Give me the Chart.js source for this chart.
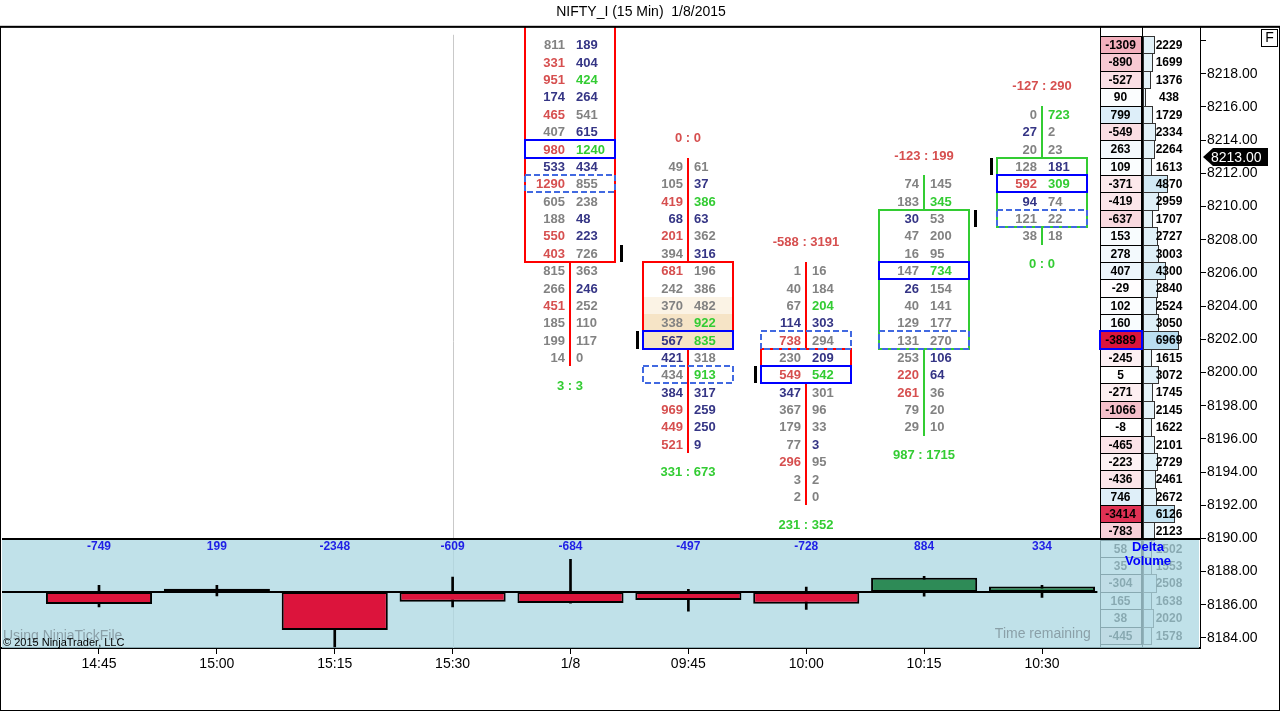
<!DOCTYPE html>
<html>
<head>
<meta charset="utf-8">
<script src="https://cdn.jsdelivr.net/npm/chart.js@4.4.1/dist/chart.umd.min.js"></script>
<style>
  html, body { margin: 0; padding: 0; background: #fff; overflow: hidden; }
  canvas { display: block; }
</style>
</head>
<body>
<canvas id="chart" width="1280" height="711"></canvas>
<script>
const FONT = '"Liberation Sans", Arial, sans-serif';

// 15 min bars and their delta candles (lower panel)
const categories = ['14:45', '15:00', '15:15', '15:30', '1/8', '09:45', '10:00', '10:15', '10:30'];
const deltaClose = [-749, 199, -2348, -609, -684, -497, -728, 884, 334];
const deltaHigh  = [413, 413, 0, 926, 2020, 170, 310, 970, 413];
const deltaLow   = [-926, -247, -3390, -926, -684, -1190, -1070, -265, -330];

// price axis
const priceTicks = [8184, 8186, 8188, 8190, 8192, 8194, 8196, 8198, 8200, 8202,
                    8204, 8206, 8208, 8210, 8212, 8214, 8216, 8218, 8220];
const lastPrice = 8213;

// footprint bars, rows are ladder rows (0 = top row of the profile)
const fpCols  = [4, 5, 6, 7, 8];
const fpFirst = [0, 7, 13, 8, 4];
const fpBid = [
  [811, 331, 951, 174, 465, 407, 980, 533, 1290, 605, 188, 550, 403, 815, 266, 451, 185, 199, 14],
  [49, 105, 419, 68, 201, 394, 681, 242, 370, 338, 567, 421, 434, 384, 969, 449, 521],
  [1, 40, 67, 114, 738, 230, 549, 347, 367, 179, 77, 296, 3, 2],
  [74, 183, 30, 47, 16, 147, 26, 40, 129, 131, 253, 220, 261, 79, 29],
  [0, 27, 20, 128, 592, 94, 121, 38]
];
const fpAsk = [
  [189, 404, 424, 264, 541, 615, 1240, 434, 855, 238, 48, 223, 726, 363, 246, 252, 110, 117, 0],
  [61, 37, 386, 63, 362, 316, 196, 386, 482, 922, 835, 318, 913, 317, 259, 250, 9],
  [16, 184, 204, 303, 294, 209, 542, 301, 96, 33, 3, 95, 2, 0],
  [145, 345, 53, 200, 95, 734, 154, 141, 177, 270, 106, 64, 36, 20, 10],
  [723, 2, 23, 181, 309, 74, 22, 18]
];
// k = neutral, r = bid imbalance, n = stacked, g = ask imbalance
const fpTone = [
  ['kn','rn','rg','nn','rk','kn','rg','nn','rk','kk','kn','rn','rk','kk','kn','rk','kk','kk','kk'],
  ['kk','kn','rg','nn','rk','kn','rk','kk','kk','kg','ng','nk','kg','nn','rn','rn','rn'],
  ['kk','kk','kg','nn','rk','kn','rg','nk','kk','kk','kn','rk','kk','kk'],
  ['kk','kg','nk','kk','kk','kg','nk','kk','kk','kk','kn','rn','rk','kk','kk'],
  ['kg','nk','kk','kn','rg','nk','kk','kk']
];
const fpHead  = [null, [0, 0], [-588, 3191], [-123, 199], [-127, 290]];
const fpFoot  = [[3, 3], [331, 673], [231, 352], [987, 1715], [0, 0]];
const fpBody  = [[-4, 12.5], [12.5, 17.5], [17.5, 19.5], [9.5, 17.5], [6.5, 10.5]];
const fpUp    = [false, false, false, true, true];
const fpPoc   = [6, 17, 19, 13, 8];
const fpDash  = [8, 19, 17, 17, 10];
const fpClose = [12, 17, 19, 10, 7];
const fpCloseSide = [1, -1, -1, 1, -1];
const fpShade = [[], [[15, 0.45], [16, 1], [17, 1]], [], [], []];

// volume profile on the right
const profDelta = [-1309, -890, -527, 90, 799, -549, 263, 109, -371, -419, -637, 153, 278, 407, -29, 102, 160,
                   -3889, -245, 5, -271, -1066, -8, -465, -223, -436, 746, -3414, -783, 58, 35, -304, 165, 38, -445];
const profVol = [2229, 1699, 1376, 438, 1729, 2334, 2264, 1613, 4870, 2959, 1707, 2727, 3003, 4300, 2840, 2524, 3050,
                 6969, 1615, 3072, 1745, 2145, 1622, 2101, 2729, 2461, 2672, 6126, 2123, 1502, 1553, 2508, 1638, 2020, 1578];

const TONE = { k: '#828282', r: '#d64f4f', n: '#353585', g: '#33cc33' };

function mix(a, b, t) {
  t = Math.max(0, Math.min(1, t));
  return 'rgb(' + a.map((v, i) => Math.round(v + (b[i] - v) * t)).join(',') + ')';
}

function drawFootprint(ctx, xs, yr) {
  fpCols.forEach((ci, j) => {
    const cx = Math.round(xs.getPixelForValue(ci));
    const py = r => Math.round(yr.getPixelForValue(r));
    const first = fpFirst[j], last = first + fpBid[j].length - 1;
    const col = fpUp[j] ? '#33cc33' : '#ff0000';
    const box = r => ctx.strokeRect(cx - 45, py(r - 0.5), 90, py(r + 0.5) - py(r - 0.5));

    ctx.fillStyle = col;
    ctx.fillRect(cx - 1, py(first - 0.5), 2, py(last + 0.5) - py(first - 0.5));

    const bt = py(fpBody[j][0]), bb = py(fpBody[j][1]);
    ctx.fillStyle = '#fff';
    ctx.fillRect(cx - 45, bt, 90, bb - bt);
    fpShade[j].forEach(([r, t]) => {
      ctx.fillStyle = mix([255, 255, 255], [246, 228, 198], t);
      ctx.fillRect(cx - 44, py(r - 0.5), 88, py(r + 0.5) - py(r - 0.5));
    });
    ctx.lineWidth = 2;
    ctx.setLineDash([]);
    ctx.strokeStyle = col;
    ctx.strokeRect(cx - 45, bt, 90, bb - bt);

    ctx.strokeStyle = '#4169e1';
    ctx.setLineDash([6, 3]);
    box(fpDash[j]);
    ctx.setLineDash([]);
    ctx.strokeStyle = '#0000ff';
    box(fpPoc[j]);

    ctx.fillStyle = '#000';
    const cr = fpClose[j];
    ctx.fillRect(cx + fpCloseSide[j] * 51 - 1, py(cr - 0.5), 3, py(cr + 0.5) - py(cr - 0.5));

    ctx.font = 'bold 13px ' + FONT;
    ctx.textBaseline = 'middle';
    fpBid[j].forEach((b, k) => {
      const y = yr.getPixelForValue(first + k) + 1;
      ctx.textAlign = 'right';
      ctx.fillStyle = TONE[fpTone[j][k][0]];
      ctx.fillText(String(b), cx - 5, y);
      ctx.textAlign = 'left';
      ctx.fillStyle = TONE[fpTone[j][k][1]];
      ctx.fillText(String(fpAsk[j][k]), cx + 6, y);
    });
    ctx.textAlign = 'center';
    if (fpHead[j]) {
      ctx.fillStyle = '#d64f4f';
      ctx.fillText(fpHead[j][0] + ' : ' + fpHead[j][1], cx, yr.getPixelForValue(first - 1.6));
    }
    ctx.fillStyle = '#33cc33';
    ctx.fillText(fpFoot[j][0] + ' : ' + fpFoot[j][1], cx, yr.getPixelForValue(last + 1.65));
  });
}

function drawProfile(ctx, a, yr) {
  const x0 = a.right - 100, x1 = a.right - 59, vb = a.right - 57;
  const maxV = Math.max(...profVol);
  const maxN = Math.max(...profDelta.map(d => -d));
  ctx.font = 'bold 12px ' + FONT;
  ctx.textAlign = 'center';
  ctx.textBaseline = 'middle';
  ctx.lineWidth = 1;
  profDelta.forEach((d, r) => {
    const t = Math.round(yr.getPixelForValue(r - 0.5));
    const b = Math.round(yr.getPixelForValue(r + 0.5));
    ctx.fillStyle = d < 0 ? mix([255, 255, 255], [220, 20, 60], -d / maxN)
                          : mix([255, 255, 255], [212, 234, 247], d / 1000);
    ctx.fillRect(x0, t, x1 - x0, b - t);
    ctx.strokeStyle = '#000';
    ctx.strokeRect(x0 + 0.5, t + 0.5, x1 - x0, b - t);
    const w = Math.max(2, Math.round(profVol[r] / maxV * 35));
    ctx.fillStyle = mix([232, 244, 250], [186, 222, 240], (profVol[r] / maxV) ** 2);
    ctx.fillRect(vb, t, w, b - t);
    ctx.strokeStyle = '#333';
    ctx.strokeRect(vb + 0.5, t + 0.5, w, b - t);
    const ym = (t + b) / 2 + 1;
    ctx.fillStyle = '#000';
    ctx.fillText(String(d), (x0 + x1) / 2, ym);
    ctx.fillText(String(profVol[r]), a.right - 31, ym);
  });
  ctx.strokeStyle = '#000';
  ctx.beginPath();
  ctx.moveTo(x1 + 1.5, a.top); ctx.lineTo(x1 + 1.5, a.bottom);
  ctx.moveTo(x0 + 0.5, a.top); ctx.lineTo(x0 + 0.5, a.bottom);
  ctx.stroke();
  const poc = profVol.indexOf(maxV);
  ctx.strokeStyle = '#0000ff';
  ctx.lineWidth = 2;
  const t = Math.round(yr.getPixelForValue(poc - 0.5)), b = Math.round(yr.getPixelForValue(poc + 0.5));
  ctx.strokeRect(x0, t, x1 - x0 + 1, b - t);
}

const layers = {
  id: 'layers',
  beforeDraw(chart) {
    const ctx = chart.ctx;
    ctx.save();
    ctx.fillStyle = '#fff';
    ctx.fillRect(0, 0, chart.width, chart.height);
    ctx.restore();
  },
  beforeDatasetsDraw(chart) {
    const { ctx, chartArea: a, scales } = chart;
    const xs = scales.x, yr = scales.yr, yd = scales.yd;
    ctx.save();
    ctx.beginPath();
    ctx.rect(a.left, a.top, a.right - a.left, a.bottom - a.top);
    ctx.clip();

    // session break
    const sx = Math.round(xs.getPixelForValue(3)) + 0.5;
    ctx.strokeStyle = '#c9c9c9';
    ctx.lineWidth = 1;
    ctx.beginPath(); ctx.moveTo(sx, a.top + 8); ctx.lineTo(sx, a.bottom); ctx.stroke();

    drawFootprint(ctx, xs, yr);
    drawProfile(ctx, a, yr);

    // delta panel
    const z = Math.round(yd.getPixelForValue(0));
    const pTop = z - 53;
    ctx.fillStyle = 'rgba(174,216,227,0.78)';
    ctx.fillRect(a.left, pTop, a.right - a.left - 1, a.bottom - pTop);
    ctx.fillStyle = '#000';
    ctx.fillRect(a.left, pTop - 1, a.right - a.left, 2);
    ctx.fillRect(a.left, z - 1, xs.getPixelForValue(8.47) - a.left, 2);

    ctx.font = '14px ' + FONT;
    ctx.textBaseline = 'middle';
    ctx.textAlign = 'left';
    ctx.fillStyle = 'rgba(120,138,146,0.75)';
    ctx.fillText('Using NinjaTickFile', a.left + 1, a.bottom - 12);
    ctx.fillText('Time remaining', xs.getPixelForValue(7.6), a.bottom - 14);
    ctx.restore();
  },
  afterDatasetsDraw(chart) {
    const { ctx, chartArea: a, scales } = chart;
    const xs = scales.x, yd = scales.yd, yp = scales.y;
    const z = Math.round(yd.getPixelForValue(0));
    ctx.save();
    ctx.textBaseline = 'middle';
    ctx.textAlign = 'center';
    ctx.font = 'bold 12px ' + FONT;
    ctx.fillStyle = '#1f1fe6';
    deltaClose.forEach((d, i) => ctx.fillText(String(d), xs.getPixelForValue(i), z - 45));
    ctx.fillStyle = '#0000ff';
    ctx.font = 'bold 13px ' + FONT;
    ctx.fillText('Delta', a.right - 52, z - 45);
    ctx.fillText('Volume', a.right - 52, z - 31);

    ctx.textAlign = 'left';
    ctx.font = '11px ' + FONT;
    ctx.fillStyle = '#000';
    ctx.fillText('\u00a9 2015 NinjaTrader, LLC', a.left + 1, a.bottom - 5);

    // last price marker
    const py = Math.round(yp.getPixelForValue(lastPrice));
    const x0 = a.right + 3;
    ctx.fillStyle = '#000';
    ctx.beginPath();
    ctx.moveTo(x0, py);
    ctx.lineTo(x0 + 10, py - 9);
    ctx.lineTo(x0 + 65, py - 9);
    ctx.lineTo(x0 + 65, py + 9);
    ctx.lineTo(x0 + 10, py + 9);
    ctx.closePath();
    ctx.fill();
    ctx.fillStyle = '#fff';
    ctx.font = '14px ' + FONT;
    ctx.fillText(lastPrice.toFixed(2), x0 + 8, py + 1);

    // F button
    ctx.fillStyle = '#fff';
    ctx.fillRect(1261, 29, 16, 17);
    ctx.strokeStyle = '#000';
    ctx.lineWidth = 1;
    ctx.strokeRect(1261.5, 29.5, 16, 17);
    ctx.fillStyle = '#000';
    ctx.textAlign = 'center';
    ctx.fillText('F', 1269.5, 38.5);

    // frame
    ctx.fillRect(0, a.top - 1, chart.width, 2);
    ctx.strokeRect(0.5, a.top, chart.width - 1, chart.height - a.top - 0.5);
    ctx.restore();
  }
};

const wickData = categories.map((c, i) => ({ x: i, y: [deltaLow[i], deltaHigh[i]] }));
const bodyData = categories.map((c, i) => ({ x: i, y: [0, deltaClose[i]] }));

Chart.defaults.font.family = FONT;
Chart.defaults.color = '#000';

new Chart(document.getElementById('chart'), {
  type: 'bar',
  data: {
    datasets: [
      {
        label: 'delta range',
        data: wickData,
        xAxisID: 'x',
        yAxisID: 'yd',
        backgroundColor: '#000',
        barThickness: 2,
        grouped: false,
        order: 2
      },
      {
        label: 'delta',
        data: bodyData,
        xAxisID: 'x',
        yAxisID: 'yd',
        backgroundColor: deltaClose.map(d => d >= 0 ? '#2e8b57' : '#dc143c'),
        borderColor: '#000',
        borderWidth: 2,
        borderSkipped: false,
        barPercentage: 0.9,
        categoryPercentage: 1,
        grouped: false,
        order: 1
      }
    ]
  },
  options: {
    responsive: false,
    animation: false,
    devicePixelRatio: 1,
    layout: { padding: { left: 2, right: 0, top: 0, bottom: 0 } },
    plugins: {
      legend: { display: false },
      tooltip: { enabled: false },
      title: {
        display: true,
        text: 'NIFTY_I (15 Min)  1/8/2015',
        color: '#000',
        font: { size: 14, weight: 'normal' },
        padding: { top: 4, bottom: 6 }
      }
    },
    scales: {
      x: {
        type: 'linear',
        position: 'bottom',
        offset: false,
        min: -0.8229,
        max: 9.3404,
        afterBuildTicks: s => { s.ticks = categories.map((c, i) => ({ value: i })); },
        afterFit: s => { s.height = 63; },
        ticks: {
          color: '#000',
          font: { size: 14 },
          padding: 2,
          maxRotation: 0,
          autoSkip: false,
          callback: v => categories[v] ?? ''
        },
        grid: { offset: false, drawOnChartArea: false, drawTicks: true, tickLength: 6, color: '#000' },
        border: { display: true, color: '#000', width: 2 }
      },
      y: {
        type: 'linear',
        position: 'right',
        min: 8183.397,
        max: 8220.833,
        afterBuildTicks: s => { s.ticks = priceTicks.map(v => ({ value: v })); },
        afterFit: s => { s.width = 80; },
        ticks: {
          color: '#000',
          font: { size: 14 },
          padding: 1,
          callback: v => v === 8220 ? '' : Number(v).toFixed(2)
        },
        grid: { drawOnChartArea: false, drawTicks: true, tickLength: 6, color: '#000' },
        border: { display: true, color: '#000', width: 1 }
      },
      yr: {
        type: 'linear',
        display: false,
        reverse: true,
        min: -1.0369,
        max: 34.735
      },
      yd: {
        type: 'linear',
        display: false,
        min: -3457,
        max: 34877
      }
    }
  },
  plugins: [layers]
});
</script>
</body>
</html>
